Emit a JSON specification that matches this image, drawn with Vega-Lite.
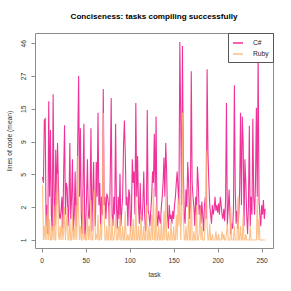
{
"$schema": "https://vega.github.io/schema/vega-lite/v6.json",
"autosize": "none",
"width": 238,
"height": 215,
"padding": {"left": 35, "top": 33, "right": 18, "bottom": 43},
"title": {"text": "Conciseness: tasks compiling successfully", "fontSize": 8.1, "fontWeight": "bold", "font": "Liberation Sans", "color": "#000", "offset": 11, "anchor": "middle"},
"data": {"values": [
{"task":1,"C#":4.5,"Ruby":3.8},{"task":2,"C#":4,"Ruby":1},{"task":3,"C#":12.7,"Ruby":1.5},{"task":4,"C#":13,"Ruby":1},{"task":5,"C#":1.5,"Ruby":2},{"task":6,"C#":2.5,"Ruby":1},{"task":7,"C#":1.2,"Ruby":2.5},{"task":8,"C#":17.5,"Ruby":1},{"task":9,"C#":3,"Ruby":1.8},{"task":10,"C#":10.7,"Ruby":1},
{"task":11,"C#":2,"Ruby":1},{"task":12,"C#":1.3,"Ruby":1.5},{"task":13,"C#":19.7,"Ruby":1},{"task":14,"C#":3,"Ruby":2.5},{"task":15,"C#":1.5,"Ruby":1},{"task":16,"C#":7.5,"Ruby":1},{"task":17,"C#":2.5,"Ruby":3},{"task":18,"C#":8.5,"Ruby":4.8},{"task":19,"C#":4,"Ruby":1.2},{"task":20,"C#":2,"Ruby":1},
{"task":21,"C#":1.8,"Ruby":1.5},{"task":22,"C#":2.2,"Ruby":1},{"task":23,"C#":3,"Ruby":2},{"task":24,"C#":1.4,"Ruby":1},{"task":25,"C#":5,"Ruby":1.3},{"task":26,"C#":11.6,"Ruby":2.4},{"task":27,"C#":2,"Ruby":1},{"task":28,"C#":4,"Ruby":1.5},{"task":29,"C#":3.6,"Ruby":2.4},{"task":30,"C#":1.5,"Ruby":1},
{"task":31,"C#":2.5,"Ruby":1},{"task":32,"C#":8.5,"Ruby":1.8},{"task":33,"C#":1.8,"Ruby":1},{"task":34,"C#":3,"Ruby":1},{"task":35,"C#":6.3,"Ruby":2},{"task":36,"C#":1.3,"Ruby":1},{"task":37,"C#":2,"Ruby":1.4},{"task":38,"C#":5,"Ruby":1},{"task":39,"C#":1.5,"Ruby":2.5},{"task":40,"C#":2.5,"Ruby":1},
{"task":41,"C#":9,"Ruby":6.7},{"task":42,"C#":26.8,"Ruby":2},{"task":43,"C#":3,"Ruby":1},{"task":44,"C#":11,"Ruby":1.5},{"task":45,"C#":2,"Ruby":1},{"task":46,"C#":1.2,"Ruby":1},{"task":47,"C#":4,"Ruby":3},{"task":48,"C#":11.9,"Ruby":1},{"task":49,"C#":1.1,"Ruby":1.2},{"task":50,"C#":1.5,"Ruby":1},
{"task":51,"C#":3,"Ruby":1},{"task":52,"C#":6.3,"Ruby":2},{"task":53,"C#":2,"Ruby":1},{"task":54,"C#":1.8,"Ruby":1.5},{"task":55,"C#":3,"Ruby":1},{"task":56,"C#":11,"Ruby":2.8},{"task":57,"C#":1.3,"Ruby":1},{"task":58,"C#":3,"Ruby":1},{"task":59,"C#":6,"Ruby":1.5},{"task":60,"C#":2,"Ruby":3.5},
{"task":61,"C#":1.5,"Ruby":1},{"task":62,"C#":6,"Ruby":1.2},{"task":63,"C#":3,"Ruby":1},{"task":64,"C#":14.4,"Ruby":2},{"task":65,"C#":2.5,"Ruby":1},{"task":66,"C#":4,"Ruby":1},{"task":67,"C#":1.5,"Ruby":1.6},{"task":68,"C#":3,"Ruby":1},{"task":69,"C#":2,"Ruby":3},{"task":70,"C#":21.6,"Ruby":14.4},
{"task":71,"C#":2.5,"Ruby":2},{"task":72,"C#":3,"Ruby":1},{"task":73,"C#":1.8,"Ruby":1},{"task":74,"C#":3.2,"Ruby":1.5},{"task":75,"C#":3,"Ruby":1},{"task":76,"C#":2.5,"Ruby":1},{"task":77,"C#":1.5,"Ruby":2.5},{"task":78,"C#":5,"Ruby":1},{"task":79,"C#":18.5,"Ruby":1},{"task":80,"C#":2,"Ruby":1.8},
{"task":81,"C#":1.5,"Ruby":1},{"task":82,"C#":3,"Ruby":1},{"task":83,"C#":2,"Ruby":1.3},{"task":84,"C#":11.9,"Ruby":2},{"task":85,"C#":2.5,"Ruby":1},{"task":86,"C#":1.4,"Ruby":1},{"task":87,"C#":3,"Ruby":1.5},{"task":88,"C#":1.8,"Ruby":1},{"task":89,"C#":4.8,"Ruby":2},{"task":90,"C#":1.5,"Ruby":1},
{"task":91,"C#":2.2,"Ruby":1},{"task":92,"C#":3,"Ruby":1.5},{"task":93,"C#":8,"Ruby":1},{"task":94,"C#":12.6,"Ruby":1},{"task":95,"C#":7,"Ruby":2.2},{"task":96,"C#":2.5,"Ruby":1},{"task":97,"C#":3,"Ruby":1},{"task":98,"C#":1.5,"Ruby":1.2},{"task":99,"C#":3.5,"Ruby":1},{"task":100,"C#":3.2,"Ruby":1},
{"task":101,"C#":1.3,"Ruby":1.5},{"task":102,"C#":2,"Ruby":1},{"task":103,"C#":6.3,"Ruby":1},{"task":104,"C#":4,"Ruby":1.8},{"task":105,"C#":5,"Ruby":1},{"task":106,"C#":2,"Ruby":1},{"task":107,"C#":17,"Ruby":3},{"task":108,"C#":3,"Ruby":1},{"task":109,"C#":6.7,"Ruby":1},{"task":110,"C#":2.5,"Ruby":1.5},
{"task":111,"C#":1.6,"Ruby":1},{"task":112,"C#":4,"Ruby":1},{"task":113,"C#":1.8,"Ruby":2},{"task":114,"C#":1.7,"Ruby":1},{"task":115,"C#":2.5,"Ruby":1},{"task":116,"C#":5,"Ruby":1.5},{"task":117,"C#":2,"Ruby":1},{"task":118,"C#":1.3,"Ruby":1},{"task":119,"C#":1.8,"Ruby":2.5},{"task":120,"C#":15.1,"Ruby":1},
{"task":121,"C#":2.2,"Ruby":1},{"task":122,"C#":2,"Ruby":1.5},{"task":123,"C#":1.5,"Ruby":1},{"task":124,"C#":2.2,"Ruby":1},{"task":125,"C#":3,"Ruby":2},{"task":126,"C#":5,"Ruby":1},{"task":127,"C#":4,"Ruby":3.6},{"task":128,"C#":10,"Ruby":1},{"task":129,"C#":3,"Ruby":1},{"task":130,"C#":13.5,"Ruby":2.5},
{"task":131,"C#":2,"Ruby":1},{"task":132,"C#":1.5,"Ruby":1},{"task":133,"C#":2.2,"Ruby":1.5},{"task":134,"C#":1.8,"Ruby":1},{"task":135,"C#":1.6,"Ruby":1},{"task":136,"C#":2.4,"Ruby":1.8},{"task":137,"C#":3,"Ruby":1},{"task":138,"C#":4,"Ruby":1},{"task":139,"C#":6.5,"Ruby":2.2},{"task":140,"C#":3,"Ruby":1},
{"task":141,"C#":8.5,"Ruby":3},{"task":142,"C#":5,"Ruby":1},{"task":143,"C#":2,"Ruby":1},{"task":144,"C#":1.4,"Ruby":1.3},{"task":145,"C#":2.5,"Ruby":1},{"task":146,"C#":1.8,"Ruby":1},{"task":147,"C#":2,"Ruby":1.7},{"task":148,"C#":1.6,"Ruby":1},{"task":149,"C#":2.2,"Ruby":1},{"task":150,"C#":1.8,"Ruby":1.5},
{"task":151,"C#":2.5,"Ruby":1},{"task":152,"C#":3,"Ruby":1},{"task":153,"C#":4,"Ruby":2},{"task":154,"C#":5,"Ruby":1},{"task":155,"C#":3.5,"Ruby":2.9},{"task":156,"C#":2.5,"Ruby":1.5},{"task":157,"C#":47,"Ruby":3.5},{"task":158,"C#":13.5,"Ruby":1},{"task":159,"C#":2.5,"Ruby":2},{"task":160,"C#":44,"Ruby":14.4},
{"task":161,"C#":5,"Ruby":2},{"task":162,"C#":2,"Ruby":1},{"task":163,"C#":1.6,"Ruby":1},{"task":164,"C#":3.5,"Ruby":1.5},{"task":165,"C#":2.4,"Ruby":1},{"task":166,"C#":6,"Ruby":1},{"task":167,"C#":4,"Ruby":2.5},{"task":168,"C#":1.8,"Ruby":1},{"task":169,"C#":2.5,"Ruby":1},{"task":170,"C#":29,"Ruby":4},
{"task":171,"C#":4,"Ruby":1},{"task":172,"C#":3,"Ruby":1},{"task":173,"C#":2.4,"Ruby":1.3},{"task":174,"C#":1.5,"Ruby":1},{"task":175,"C#":3,"Ruby":1},{"task":176,"C#":2,"Ruby":2.5},{"task":177,"C#":5.5,"Ruby":1},{"task":178,"C#":4,"Ruby":1},{"task":179,"C#":2,"Ruby":1.2},{"task":180,"C#":2.5,"Ruby":2.3},
{"task":181,"C#":1.6,"Ruby":1},{"task":182,"C#":2.7,"Ruby":1.5},{"task":183,"C#":2,"Ruby":1},{"task":184,"C#":1.3,"Ruby":1},{"task":185,"C#":2.5,"Ruby":1},{"task":186,"C#":3,"Ruby":2},{"task":187,"C#":1.8,"Ruby":7.4},{"task":188,"C#":30,"Ruby":1.5},{"task":189,"C#":7,"Ruby":1},{"task":190,"C#":4,"Ruby":1},
{"task":191,"C#":2.5,"Ruby":1.6},{"task":192,"C#":2,"Ruby":1},{"task":193,"C#":1.6,"Ruby":1},{"task":194,"C#":2.5,"Ruby":1.2},{"task":195,"C#":2,"Ruby":1},{"task":196,"C#":2.3,"Ruby":1},{"task":197,"C#":3,"Ruby":1},{"task":198,"C#":2.2,"Ruby":1.3},{"task":199,"C#":2.5,"Ruby":1},{"task":200,"C#":2.1,"Ruby":1},
{"task":201,"C#":2.6,"Ruby":1.2},{"task":202,"C#":2,"Ruby":1},{"task":203,"C#":3,"Ruby":1},{"task":204,"C#":2.5,"Ruby":1},{"task":205,"C#":2,"Ruby":1.3},{"task":206,"C#":1.8,"Ruby":1},{"task":207,"C#":2.3,"Ruby":1.2},{"task":208,"C#":1.7,"Ruby":1},{"task":209,"C#":2.8,"Ruby":1},{"task":210,"C#":17,"Ruby":1.2},
{"task":211,"C#":1.5,"Ruby":1.6},{"task":212,"C#":2.3,"Ruby":1},{"task":213,"C#":3.5,"Ruby":1},{"task":214,"C#":2,"Ruby":1},{"task":215,"C#":1.2,"Ruby":2.4},{"task":216,"C#":1.6,"Ruby":1},{"task":217,"C#":1.4,"Ruby":1},{"task":218,"C#":2.3,"Ruby":1},{"task":219,"C#":23,"Ruby":1.5},{"task":220,"C#":3.5,"Ruby":1},
{"task":221,"C#":1.6,"Ruby":1},{"task":222,"C#":2.2,"Ruby":1},{"task":223,"C#":1.4,"Ruby":3},{"task":224,"C#":2,"Ruby":1},{"task":225,"C#":3.5,"Ruby":1},{"task":226,"C#":14.4,"Ruby":1.5},{"task":227,"C#":2.5,"Ruby":1},{"task":228,"C#":13.5,"Ruby":1},{"task":229,"C#":8.5,"Ruby":2},{"task":230,"C#":1.5,"Ruby":1},
{"task":231,"C#":6.3,"Ruby":1},{"task":232,"C#":4,"Ruby":1.2},{"task":233,"C#":2,"Ruby":1},{"task":234,"C#":1.2,"Ruby":1},{"task":235,"C#":2.5,"Ruby":1},{"task":236,"C#":11.5,"Ruby":1},{"task":237,"C#":1.5,"Ruby":1.5},{"task":238,"C#":3,"Ruby":1},{"task":239,"C#":2,"Ruby":1},{"task":240,"C#":13,"Ruby":1},
{"task":241,"C#":3,"Ruby":1},{"task":242,"C#":2,"Ruby":1},{"task":243,"C#":4,"Ruby":1},{"task":244,"C#":15.7,"Ruby":1},{"task":245,"C#":3,"Ruby":2.9},{"task":246,"C#":40,"Ruby":1},{"task":247,"C#":2.8,"Ruby":1.8},{"task":248,"C#":2,"Ruby":1},{"task":249,"C#":1.5,"Ruby":1},{"task":250,"C#":2.5,"Ruby":1},
{"task":251,"C#":2,"Ruby":1},{"task":252,"C#":2.8,"Ruby":1},{"task":253,"C#":1.8,"Ruby":1},{"task":254,"C#":2.3,"Ruby":1}
]},
"transform": [{"fold": ["C#", "Ruby"], "as": ["language", "loc"]}],
"mark": {"type": "line", "strokeWidth": 1.1, "strokeOpacity": 0.85, "clip": true},
"encoding": {
"x": {"field": "task", "type": "quantitative", "title": "task",
"scale": {"domain": [-7.6, 262.9], "nice": false, "zero": false},
"axis": {"values": [0, 50, 100, 150, 200, 250], "labelPadding": 5, "titlePadding": 8}},
"y": {"field": "loc", "type": "quantitative", "title": "lines of code (mean)",
"scale": {"type": "symlog", "constant": 1, "domain": [0.759, 54.4], "nice": false, "zero": false},
"axis": {"values": [1, 2.385, 4.728, 8.696, 15.41, 26.77, 46], "format": ".0f", "labelAngle": 270, "labelPadding": 5, "titlePadding": 8}},
"color": {"field": "language", "type": "nominal",
"scale": {"domain": ["C#", "Ruby"], "range": ["#EC0F86", "#FDB676"]},
"legend": {"title": null, "orient": "top-right", "offset": 0, "symbolType": "stroke", "symbolSize": 100, "symbolStrokeWidth": 1.3, "symbolOpacity": 1, "strokeColor": "#555", "fillColor": "white", "padding": 4, "labelFontSize": 6.7, "labelColor": "#222", "labelOffset": 9, "rowPadding": 1}}
},
"config": {
"font": "Liberation Sans",
"view": {"stroke": "#8c8c8c", "strokeWidth": 1},
"axis": {"grid": false, "domain": false, "tickColor": "#8c8c8c", "tickSize": 4, "labelFontSize": 6.7, "labelColor": "#333", "titleFontSize": 6.7, "titleFontWeight": "normal", "titleColor": "#333"}
}
}
